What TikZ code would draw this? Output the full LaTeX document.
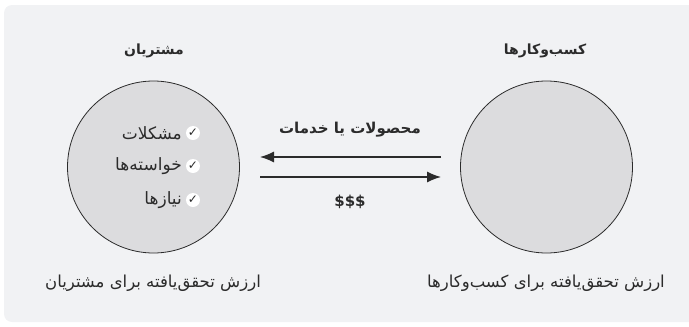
\documentclass[tikz,border=0pt]{standalone}
\usepackage{fontspec}
\usetikzlibrary{arrows.meta}
\newfontfamily\arabicfont[Script=Arabic]{DejaVu Sans}
\newfontfamily\symfont{DejaVu Sans}
\TeXXeTstate=1
\definecolor{panelgray}{HTML}{F1F2F4}
\definecolor{discgray}{HTML}{DCDCDE}
\definecolor{inkgray}{HTML}{2B2B2B}

\begin{document}
\begin{tikzpicture}[x=1pt,y=-1pt,
    disc/.style={circle,draw=inkgray,fill=discgray,line width=0.8pt,minimum size=172pt,inner sep=0pt},
    headtext/.style={font=\arabicfont\bfseries\fontsize{14}{16}\selectfont,text=inkgray},
    flowtext/.style={font=\arabicfont\bfseries\fontsize{15}{17}\selectfont,text=inkgray},
    itemtext/.style={font=\arabicfont\fontsize{17}{19}\selectfont,text=inkgray,anchor=east,inner sep=0pt},
    basetext/.style={font=\arabicfont\fontsize{16.5}{19}\selectfont,text=inkgray},
    tick/.style={circle,fill=white,minimum size=14pt,inner sep=0pt,font=\symfont\fontsize{12}{12}\selectfont,text=inkgray},
    flow/.style={draw=inkgray,line width=1.2pt,-{Latex[length=14pt,width=11pt]}}]
    \useasboundingbox (0,0) rectangle (689,327);
    \fill [ panelgray,rounded corners=8pt ] (4,5) rectangle (700,322);

    % the two parties
    \node [ disc ] (cust) at (153.5,167) {};
    \node [ disc ] (biz) at (546.5,167) {};
    \node [ headtext ] (custhead) at (154,51) {\beginR مشتریان\endR};
    \node [ headtext ] (bizhead) at (545,51) {\beginR کسب‌وکارها\endR};

    % what the customers get
    \node [ tick ] (tk1) at (193,133) {✓}; \node [ itemtext ] (it1) at (182,133) {\beginR مشکلات\endR};
    \node [ tick ] (tk2) at (193,166) {✓}; \node [ itemtext ] (it2) at (182,166) {\beginR خواسته‌ها\endR};
    \node [ tick ] (tk3) at (193,200) {✓}; \node [ itemtext ] (it3) at (182,200) {\beginR نیازها\endR};

    % exchange between them
    \coordinate (pout) at (441,157); \coordinate (pin) at (260,157);
    \coordinate (mout) at (260,177); \coordinate (min) at (441,177);
    \draw [ flow ] (pout) -- (pin);
    \draw [ flow ] (mout) -- (min);
    \node [ flowtext ] (prodlbl) at (350,130) {\beginR محصولات یا خدمات\endR};
    \node [ flowtext ] (paylbl) at (350,202) {\$\$\$};

    \node [ basetext ] (custval) at (153,283) {\beginR ارزش تحقق‌یافته برای مشتریان\endR};
    \node [ basetext ] (bizval) at (546,283) {\beginR ارزش تحقق‌یافته برای کسب‌وکارها\endR};
\end{tikzpicture}
\end{document}
